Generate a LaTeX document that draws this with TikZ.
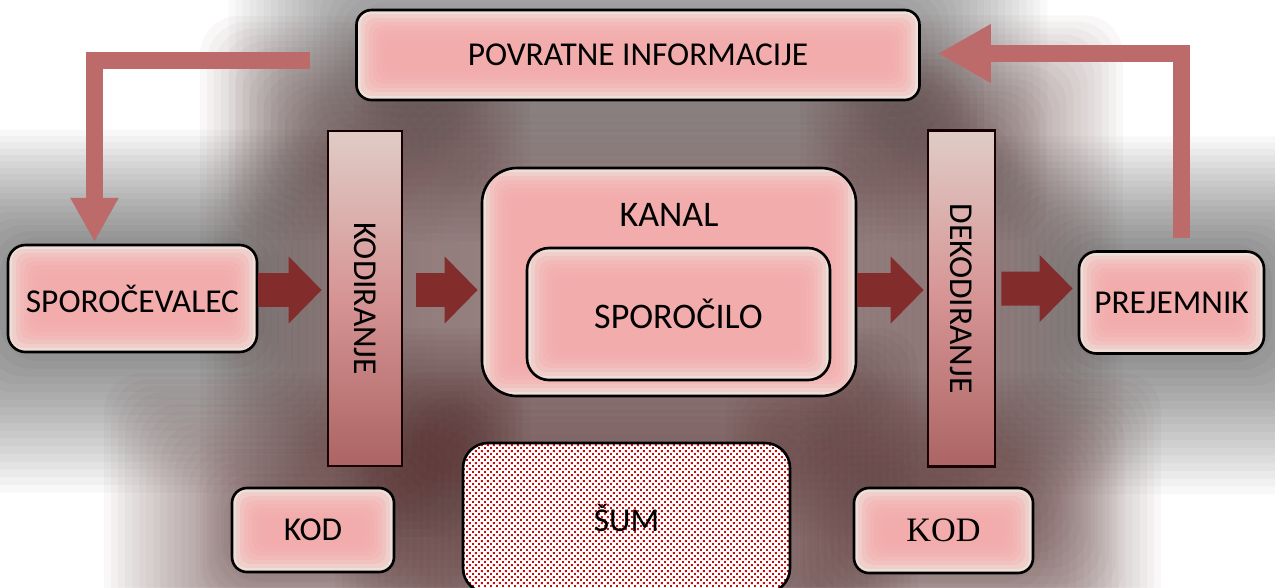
\documentclass[tikz,border=0pt]{standalone}
\usepackage{fontspec}
\setmainfont{Carlito}
\newfontfamily\serifkod{Liberation Serif}
\usepackage{tikz}
\usetikzlibrary{shapes.geometric, arrows.meta, patterns}
\definecolor{edge}{RGB}{238,224,216}
\definecolor{core}{RGB}{245,170,170}
\definecolor{flowred}{RGB}{130,44,44}
\definecolor{backred}{RGB}{188,106,106}
\definecolor{shadowbrown}{RGB}{72,30,30}
\definecolor{noisered}{RGB}{205,10,10}
\pgfdeclarepatternformonly{noisegrid}{\pgfpointorigin}{\pgfpoint{3.4pt}{3.4pt}}{\pgfpoint{3.4pt}{3.4pt}}{%
  \pgfpathrectangle{\pgfpointorigin}{\pgfpoint{1.1pt}{1.1pt}}%
  \pgfpathrectangle{\pgfpoint{1.7pt}{1.7pt}}{\pgfpoint{1.1pt}{1.1pt}}%
  \pgfusepath{fill}}
\tikzstyle{box} = [rectangle, rounded corners=0.35cm, draw=black, line width=1.5pt, fill=edge, path picture={\foreach \i in {1,...,7} \fill[core, opacity=0.3, rounded corners=6pt] ([shift={(\i*2.3pt,-\i*2.3pt)}]path picture bounding box.north west) rectangle ([shift={(-\i*2.3pt,\i*2.3pt)}]path picture bounding box.south east);}]
\tikzstyle{bar} = [rectangle, draw=black!90!red, line width=1.5pt, top color={rgb,255:red,224;green,204;blue,198}, bottom color={rgb,255:red,172;green,100;blue,100}, middle color={rgb,255:red,214;green,148;blue,148}]
\tikzstyle{noise} = [rectangle, rounded corners=0.5cm, draw=black, line width=1.5pt, preaction={fill=white}, pattern=noisegrid, pattern color=noisered]
\tikzstyle{flow} = [line width=0.68cm, draw=flowred, -{Triangle[length=0.66cm, width=1.3cm]}]
\tikzstyle{back} = [line width=0.34cm, draw=backred, -{Triangle[length=0.88cm, width=0.9cm]}]
\pgfdeclarelayer{bg}
\pgfsetlayers{bg,main}
\newcommand{\glow}[3]{%
  \foreach \g in {1,...,18}
    \fill[#2, opacity=#3, rounded corners=22pt] ([shift={(-\g*4pt,\g*3.6pt)}]#1.north west) rectangle ([shift={(\g*4pt,-\g*4.4pt)}]#1.south east);
}

\begin{document}
\begin{tikzpicture}[node distance=1cm, font=\fontsize{19pt}{23pt}\selectfont]
\useasboundingbox (0,0) rectangle (25.5,-11.74);
% Glavna vozlisca
\node (sender) [box, minimum width=4.98cm, minimum height=2.14cm] at (2.65,-5.97) {SPOROČEVALEC};
\node (coding) [bar, minimum width=1.48cm, minimum height=6.7cm, right of=sender, xshift=3.65cm] {\rotatebox{-90}{KODIRANJE}};
\node (channel) [box, rounded corners=0.7cm, minimum width=7.48cm, minimum height=4.56cm, right of=coding, xshift=5.08cm, yshift=0.33cm] {};
\node (kanal) [font=\fontsize{20.5pt}{24pt}\selectfont] at ([yshift=-0.96cm]channel.north) {KANAL};
\node (message) [box, rounded corners=0.44cm, minimum width=6.06cm, minimum height=2.64cm, below of=channel, xshift=0.19cm, yshift=0.36cm, font=\fontsize{20.5pt}{24pt}\selectfont] {SPOROČILO};
\node (decoding) [bar, minimum width=1.34cm, minimum height=6.72cm, right of=channel, xshift=4.85cm, yshift=-0.33cm] {\rotatebox{-90}{DEKODIRANJE}};
\node (receiver) [box, minimum width=3.7cm, minimum height=2.04cm, right of=decoding, xshift=3.2cm, yshift=-0.08cm] {PREJEMNIK};
\node (feedback) [box, rounded corners=0.3cm, minimum width=11.26cm, minimum height=1.8cm, above of=channel, xshift=-0.62cm, yshift=3.54cm] {POVRATNE INFORMACIJE};

\node (code1) [box, rounded corners=0.3cm, minimum width=3.24cm, minimum height=1.68cm, below of=coding, xshift=-1.04cm, yshift=-3.63cm] {KOD};
\node (noise) [noise, minimum width=6.54cm, minimum height=3cm, below of=channel, xshift=-0.85cm, yshift=-3.72cm] {ŠUM};
\node (code2) [box, rounded corners=0.3cm, minimum width=3.58cm, minimum height=1.7cm, below of=decoding, xshift=-0.36cm, yshift=-3.64cm, font=\serifkod\fontsize{19.5pt}{23pt}\selectfont] {KOD};

% Senca
\begin{pgfonlayer}{bg}
\fill[white] (0,0) rectangle (25.5,-11.74);
\glow{feedback}{black}{0.024}
\glow{sender}{black}{0.026}
\glow{receiver}{black}{0.026}
\glow{coding}{shadowbrown}{0.03}
\glow{decoding}{shadowbrown}{0.03}
\glow{channel}{shadowbrown}{0.028}
\glow{noise}{shadowbrown}{0.034}
\glow{code1}{shadowbrown}{0.03}
\glow{code2}{shadowbrown}{0.03}
\end{pgfonlayer}

% Puscice
\draw [flow, shorten >=0.1cm] ([yshift=0.17cm]sender.east) -- ([yshift=0.17cm]coding.west);
\draw [flow, shorten <=0.26cm, shorten >=0.06cm] ([yshift=0.17cm]coding.east) -- ([yshift=-0.16cm]channel.west);
\draw [flow, shorten >=0.06cm] ([yshift=-0.16cm]channel.east) -- ([yshift=0.17cm]decoding.west);
\draw [flow, shorten <=0.1cm, shorten >=0.1cm] ([yshift=0.2cm]decoding.east) -- ([yshift=0.28cm]receiver.west);

\coordinate (fbstart) at ([xshift=-0.9cm, yshift=-0.1cm]feedback.west);
\draw [back, shorten >=1pt] (fbstart) -| ([xshift=-0.76cm]sender.north);
\draw [back, -{Triangle[length=1.06cm, width=1.1cm]}, shorten >=0.34cm] ([xshift=0.2cm, yshift=0.24cm]receiver.north) |- ([yshift=0.03cm]feedback.east);

\end{tikzpicture}
\end{document}
